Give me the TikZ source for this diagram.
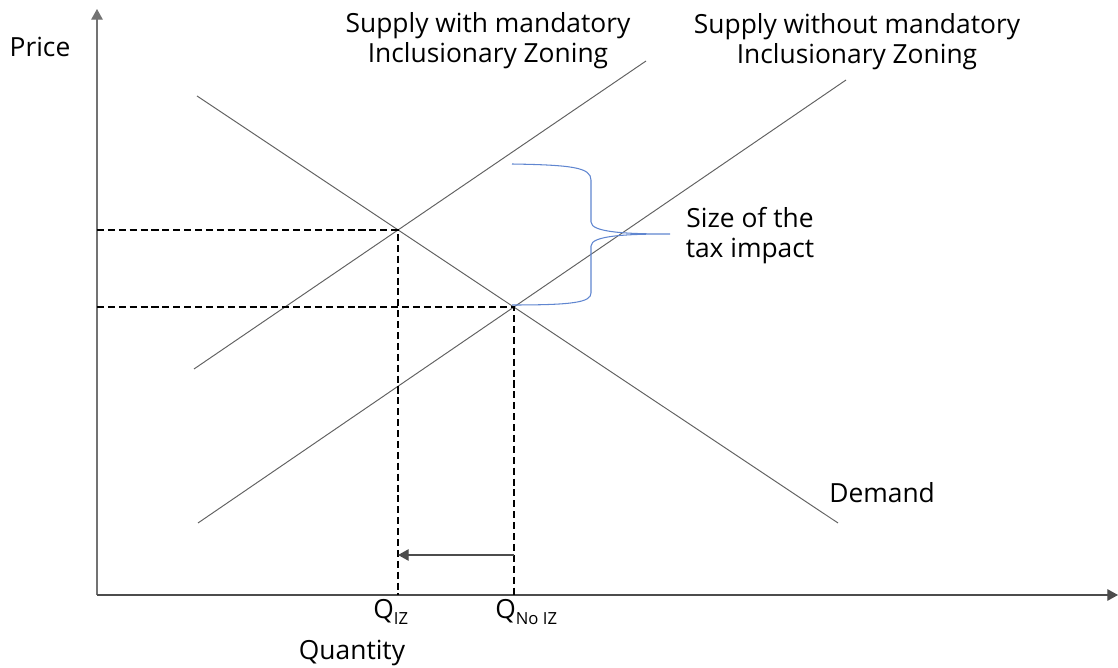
\documentclass[tikz,border=0pt]{standalone}
\usepackage{fontspec}
\setmainfont{Open Sans}
\usetikzlibrary{arrows.meta,positioning}
\definecolor{braceblue}{RGB}{96,134,208}
\newcommand{\qsub}[1]{\raisebox{-3pt}{\fontsize{9.5}{11}\selectfont #1}}

\begin{document}
\begin{tikzpicture}[
  curve/.style={draw=black!62, line width=0.55pt},
  guide/.style={draw=black, line width=0.8pt, dash pattern=on 4pt off 2.2pt},
  lbl/.style={font=\fontsize{15}{17.5}\selectfont, inner sep=0pt},
  tip/.style={-{Triangle[length=6pt,width=6.5pt]}}
]
\useasboundingbox (-1.94,-1.46) rectangle (20.42,11.9);

% Axes
\coordinate (O) at (0,0);
\coordinate (ytop) at (0,11.72);
\coordinate (xend) at (20.42,0);
\draw[tip, draw=black!55, line width=0.6pt] (O) -- (ytop);
\draw[tip, draw=black!70, line width=0.6pt] (O) -- (xend);

% Demand and the two supply curves
\coordinate (d1) at (2.0,9.98);
\coordinate (d2) at (14.82,1.44);
\coordinate (s1) at (1.94,4.52);
\coordinate (s2) at (10.98,10.68);
\coordinate (t1) at (2.02,1.44);
\coordinate (t2) at (14.98,10.3);
\draw[curve] (d1) -- (d2);
\draw[curve] (s1) -- (s2);
\draw[curve] (t1) -- (t2);

% Equilibria
\coordinate (A) at (intersection of d1--d2 and s1--s2);
\coordinate (B) at (intersection of d1--d2 and t1--t2);
\draw[guide] (A -| O) -- (A) -- (A |- O);
\draw[guide] (B -| O) -- (B) -- (B |- O);

% Shift in quantity
\coordinate (ar) at (0,0.8);
\draw[tip, draw=black!70, line width=0.6pt] (B |- ar) -- (A |- ar);

% Brace between the two prices
\coordinate (br) at (8.3,8.62);
\coordinate (bt) at (11.46,7.22);
\draw[braceblue, line width=0.6pt] (br)
  .. controls (9.5,8.6) and (9.88,8.55) .. (9.88,8.3) -- (9.88,7.46)
  .. controls (9.88,7.25) and (10.6,7.22) .. (bt)
  .. controls (10.6,7.22) and (9.88,7.19) .. (9.88,6.98) -- (9.88,6.04)
  .. controls (9.88,5.85) and (9.5,5.8) .. (8.3,5.8);

% Labels (multi-line nodes sit on their last line)
\node[lbl, anchor=base] (price) at (-1.14,10.77) {Price};
\node[lbl, anchor=base] (qty) at (5.1,-1.3) {Quantity};
\node[lbl, anchor=base west] (qiz) at (5.52,-0.48) {Q\qsub{IZ}};
\node[lbl, anchor=base west] (qno) at (7.96,-0.48) {Q\qsub{No IZ}};
\node[lbl, anchor=base west] (dem) at (14.64,1.84) {Demand};
\node[lbl, anchor=base, align=center] (siz) at (7.82,10.64) {Supply with mandatory\\Inclusionary Zoning};
\node[lbl, anchor=base, align=center] (sno) at (15.2,10.62) {Supply without mandatory\\Inclusionary Zoning};
\node[lbl, anchor=base, align=center] (tax) at (13.06,6.74) {Size of the\\tax impact};
\end{tikzpicture}
\end{document}
